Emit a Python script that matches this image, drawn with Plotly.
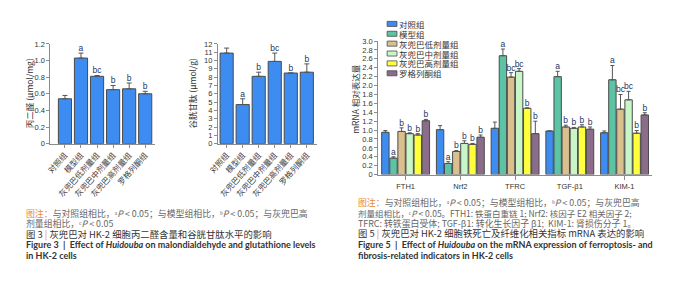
import plotly.graph_objects as go

W, H = 700, 281

# ---------------- data ----------------
groups = ["对照组", "模型组", "灰兜巴低剂量组", "灰兜巴中剂量组", "灰兜巴高剂量组", "罗格列酮组"]

mda = [0.54, 1.03, 0.81, 0.65, 0.66, 0.60]
mda_err = [0.04, 0.06, 0.01, 0.05, 0.07, 0.03]
mda_sig = ["", "a", "bc", "b", "b", "b"]

gsh = [10.9, 4.7, 8.1, 9.9, 8.5, 8.6]
gsh_err = [0.6, 0.7, 0.5, 1.0, 0.0, 1.0]
gsh_sig = ["", "a", "b", "bc", "b", "b"]

genes = ["FTH1", "Nrf2", "TFRC", "TGF-β1", "KIM-1"]
control = [0.95, 1.01, 1.04, 0.98, 0.94]
control_err = [0.04, 0.09, 0.14, 0.0, 0.04]
model = [0.37, 0.25, 2.67, 2.20, 2.13]
model_err = [0.03, 0.04, 0.15, 0.12, 0.32]
low = [0.97, 0.52, 2.19, 1.07, 1.47]
low_err = [0.08, 0.02, 0.10, 0.04, 0.33]
mid = [0.92, 0.70, 2.32, 1.04, 1.68]
mid_err = [0.02, 0.06, 0.06, 0.02, 0.19]
high = [0.89, 0.68, 1.49, 1.07, 0.93]
high_err = [0.03, 0.02, 0.01, 0.05, 0.06]
rosig = [1.21, 0.84, 0.92, 1.02, 1.34]
rosig_err = [0.03, 0.05, 0.28, 0.05, 0.05]

control_sig = ["", "", "", "", ""]
model_sig = ["a", "a", "a", "a", "a"]
low_sig = ["b", "b", "bc", "b", "bc"]
mid_sig = ["b", "b", "bc", "b", "bc"]
high_sig = ["b", "b", "b", "b", "b"]
rosig_sig = ["b", "b", "b", "b", "b"]

mda_ticks = [0, 0.2, 0.4, 0.6, 0.8, 1.0, 1.2]
mda_ticktext = ["0", "0.2", "0.4", "0.6", "0.8", "1.0", "1.2"]
gsh_ticks = list(range(0, 13))
mrna_ticks = [round(0.2 * i, 1) for i in range(16)]
mrna_ticktext = ["0"] + ["%.1f" % v for v in mrna_ticks[1:]]

# ---------------- style ----------------
BLUE = "#3d8cf2"
colors = [BLUE, "#5cc3a5", "#dbc08f", "#c9f6c6", "#ffff3c", "#8b6d8b"]
EDGE = "#4a4a4a"
AX = "#8c8c8c"
TICKC = "#333333"
SIGC = "#24365f"
FONT = "Noto Sans CJK SC"


def fx(p):
    return p / W


def fy(p):
    return 1 - p / H


fig = go.Figure()

# ---------- left charts ----------
for vals, errs, sig, ax in [(mda, mda_err, mda_sig, ""), (gsh, gsh_err, gsh_sig, "2")]:
    fig.add_trace(go.Bar(
        x=groups, y=vals, xaxis="x" + ax, yaxis="y" + ax,
        marker=dict(color=BLUE, line=dict(color=EDGE, width=1)),
        error_y=dict(type="data", array=errs, arrayminus=[0] * len(errs), symmetric=False,
                     color="#555555", thickness=1, width=2.5),
        showlegend=False, width=0.82,
    ))
    fig.add_trace(go.Scatter(
        x=groups, y=[v + e for v, e in zip(vals, errs)], text=sig, mode="text",
        textposition="top center", textfont=dict(size=8.5, color=SIGC, family="Liberation Sans"),
        xaxis="x" + ax, yaxis="y" + ax, showlegend=False, cliponaxis=False,
    ))

# ---------- mRNA chart ----------
series = [
    ("对照组", control, control_err, control_sig),
    ("模型组", model, model_err, model_sig),
    ("灰兜巴低剂量组", low, low_err, low_sig),
    ("灰兜巴中剂量组", mid, mid_err, mid_sig),
    ("灰兜巴高剂量组", high, high_err, high_sig),
    ("罗格列酮组", rosig, rosig_err, rosig_sig),
]
pitch = 0.148
bw = 0.135
for i, (name, vals, errs, sig) in enumerate(series):
    xs = [g + (i - 2.5) * pitch for g in range(len(genes))]
    fig.add_trace(go.Bar(
        x=xs, y=vals, xaxis="x3", yaxis="y3", name=name, width=bw,
        marker=dict(color=colors[i], line=dict(color=EDGE, width=1)),
        error_y=dict(type="data", array=errs, arrayminus=[0] * len(errs), symmetric=False,
                     color="#555555", thickness=1, width=2),
        showlegend=False,
    ))
    fig.add_trace(go.Scatter(
        x=xs, y=[v + e for v, e in zip(vals, errs)], text=sig, mode="text",
        textposition="top center", textfont=dict(size=8.5, color=SIGC, family="Liberation Sans"),
        xaxis="x3", yaxis="y3", showlegend=False, cliponaxis=False,
    ))

axis_common = dict(showline=True, linecolor=AX, linewidth=1, ticks="outside", ticklen=3,
                   tickcolor=AX, showgrid=False, zeroline=False,
                   tickfont=dict(size=7.5, color=TICKC, family="Liberation Sans"))

fig.update_layout(
    width=W, height=H, margin=dict(l=0, r=0, t=0, b=0),
    paper_bgcolor="white", plot_bgcolor="white",
    bargap=0.18,
    xaxis=dict(domain=[fx(32), fx(138)], range=[-0.9, 5.6], type="category", tickangle=-48,
               anchor="y", **{**axis_common, "tickfont": dict(size=8, color="#444", family=FONT)}),
    yaxis=dict(domain=[fy(136), fy(33)], range=[0, 1.2], tickvals=mda_ticks, ticktext=mda_ticktext,
               anchor="x", **axis_common),
    xaxis2=dict(domain=[fx(202), fx(303)], range=[-0.55, 5.65], type="category", tickangle=-48,
                anchor="y2", **{**axis_common, "tickfont": dict(size=8, color="#444", family=FONT)}),
    yaxis2=dict(domain=[fy(136), fy(33)], range=[0, 12], tickvals=gsh_ticks,
                anchor="x2", **axis_common),
    xaxis3=dict(domain=[fx(365), fx(643)], range=[-0.5, 4.5], tickvals=list(range(len(genes))),
                ticktext=genes, anchor="y3", **{**axis_common, "ticklen": 4}),
    yaxis3=dict(domain=[fy(168), fy(30)], range=[0, 3.0], tickvals=mrna_ticks, ticktext=mrna_ticktext,
                anchor="x3", **axis_common),
)

ann = []
# axis titles
for text, x, y in [("丙二醛 (μmol/mg)", 10, 84), ("谷胱甘肽 (μmol/g)", 176, 84), ("mRNA 相对表达量", 341, 90)]:
    ann.append(dict(text=text, x=fx(x), y=fy(y), xref="paper", yref="paper", textangle=-90,
                    showarrow=False, font=dict(size=8.5, color="#333", family=FONT),
                    xanchor="center", yanchor="middle", borderpad=0))

# legend (manual)
shapes = []
for i, (name, *_rest) in enumerate(series):
    yc = 12.3 + 10.2 * i
    shapes.append(dict(type="rect", xref="paper", yref="paper", x0=fx(374), x1=fx(384),
                       y0=fy(yc + 2.6), y1=fy(yc - 2.6), fillcolor=colors[i],
                       line=dict(color=EDGE, width=0.8)))
    ann.append(dict(text=name, x=fx(385), y=fy(yc), xref="paper", yref="paper", showarrow=False,
                    xanchor="left", yanchor="middle", borderpad=0,
                    font=dict(size=8.5, color="#333", family=FONT)))

OR = "#e8892d"
note1 = ('<span style="color:%s">图注：</span>与对照组相比，ᵃ<i>P</i> &lt; 0.05；'
         '与模型组相比，ᵇ<i>P</i> &lt; 0.05；与灰兜巴高' % OR)
left_lines = [
    (note1, 208, 8.9, "#666", False),
    ('剂量组相比，ᶜ<i>P</i> &lt; 0.05', 218.5, 8.9, "#666", False),
    ('图 3 <span style="color:%s">|</span> 灰兜巴对 HK-2 细胞丙二醛含量和谷胱甘肽水平的影响' % OR, 229.5, 9.4, "#333", False),
    ('<b>Figure 3  |  Effect of <i>Huidouba</i> on malondialdehyde and glutathione levels</b>', 240.5, 9, "#333", True),
    ('<b>in HK-2 cells</b>', 251.5, 9, "#333", True),
]
right_lines = [
    (note1, 197, 8.9, "#666", False),
    ('剂量组相比，ᶜ<i>P</i> &lt; 0.05。FTH1: 铁蛋白重链 1; Nrf2: 核因子 E2 相关因子 2;', 207.5, 8.5, "#666", False),
    ('TFRC: 转铁蛋白受体; TGF-β1: 转化生长因子 β1;  KIM-1: 肾损伤分子 1。', 218, 8.9, "#666", False),
    ('图 5 <span style="color:%s">|</span> 灰兜巴对 HK-2 细胞铁死亡及纤维化相关指标 mRNA 表达的影响' % OR, 228.5, 9.4, "#333", False),
    ('<b>Figure 5  |  Effect of <i>Huidouba</i> on the mRNA expression of ferroptosis- and</b>', 240, 9, "#333", True),
    ('<b>fibrosis-related indicators in HK-2 cells</b>', 252, 9, "#333", True),
]
for lines, x0 in [(left_lines, 6), (right_lines, 343)]:
    for text, y, size, col, latin in lines:
        ann.append(dict(text=text, x=fx(x0), y=fy(y), xref="paper", yref="paper", showarrow=False,
                        xanchor="left", yanchor="middle", borderpad=0,
                        font=dict(size=size, color=col, family="Lato" if latin else FONT)))

fig.update_layout(annotations=ann, shapes=shapes)
fig.write_html("out.html")
